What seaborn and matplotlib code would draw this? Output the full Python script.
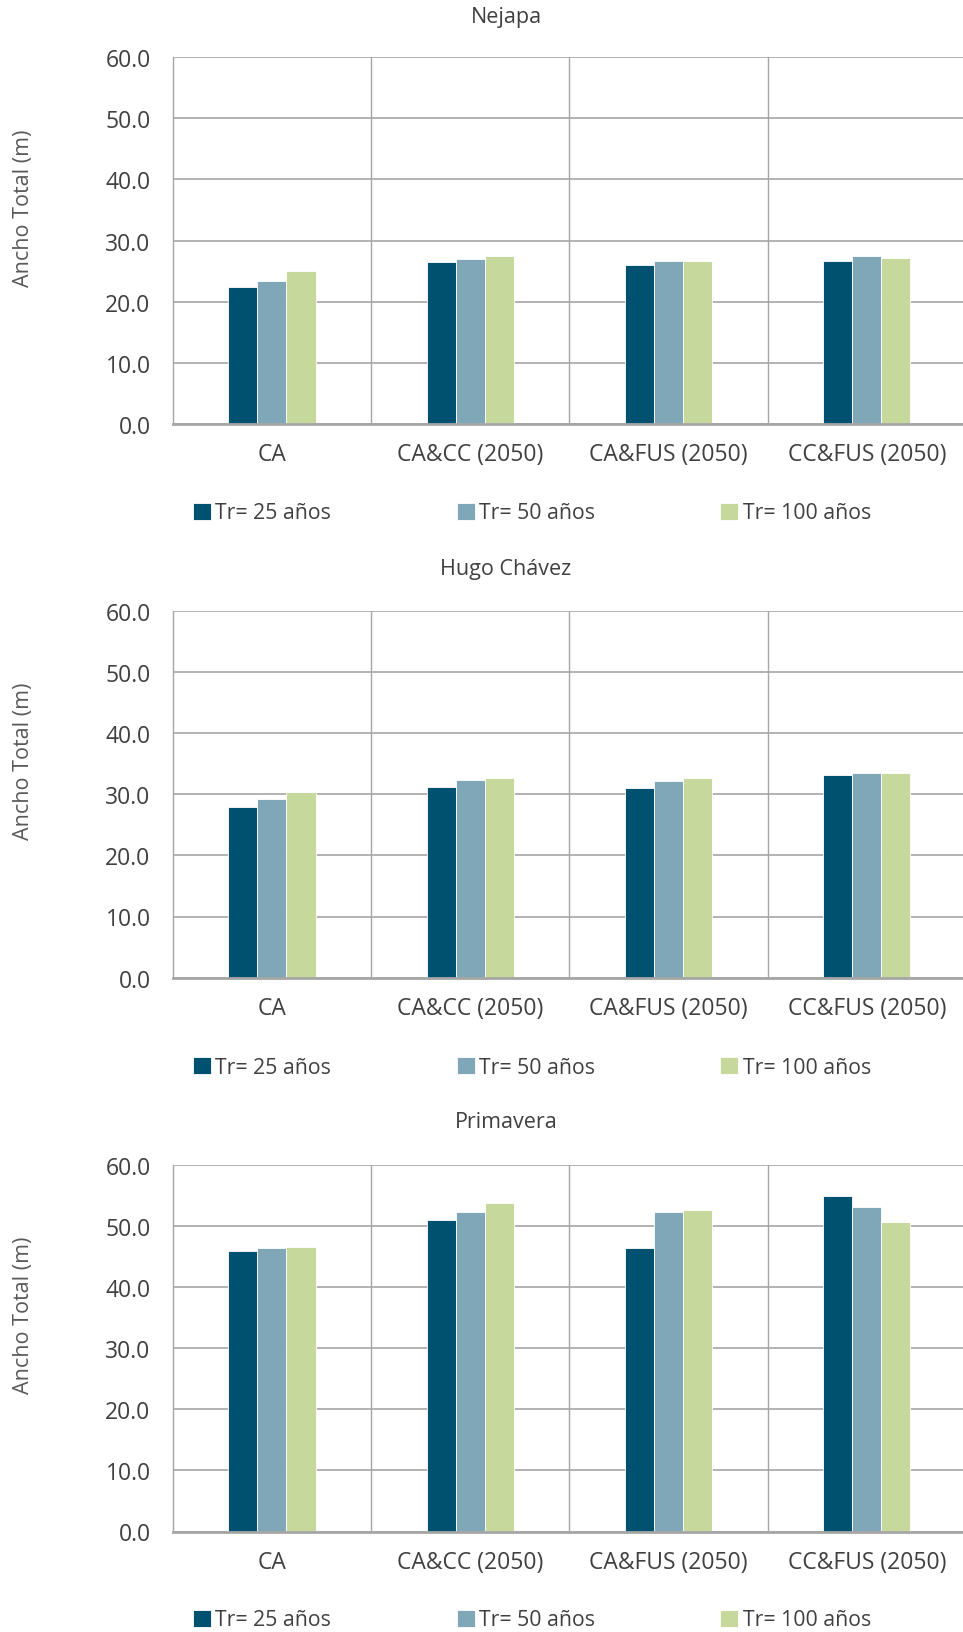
import matplotlib
matplotlib.use("Agg")
import matplotlib.pyplot as plt
import seaborn as sns
import pandas as pd

# ---------------- data ----------------
categories = ["CA", "CA&CC (2050)", "CA&FUS (2050)", "CC&FUS (2050)"]
series_names = ["Tr= 25 años", "Tr= 50 años", "Tr= 100 años"]
panel_titles = ["Nejapa", "Hugo Chávez", "Primavera"]

nejapa_tr25 = [22.4, 26.5, 26.0, 26.7]
nejapa_tr50 = [23.4, 27.0, 26.7, 27.4]
nejapa_tr100 = [25.0, 27.4, 26.7, 27.2]

hugo_tr25 = [27.9, 31.2, 31.0, 33.1]
hugo_tr50 = [29.2, 32.3, 32.1, 33.5]
hugo_tr100 = [30.4, 32.7, 32.7, 33.5]

primavera_tr25 = [46.0, 51.0, 46.4, 54.9]
primavera_tr50 = [46.4, 52.3, 52.3, 53.2]
primavera_tr100 = [46.6, 53.7, 52.7, 50.7]

y_ticks = [0, 10, 20, 30, 40, 50, 60]
y_label = "Ancho Total (m)"

panels = [
    (nejapa_tr25, nejapa_tr50, nejapa_tr100),
    (hugo_tr25, hugo_tr50, hugo_tr100),
    (primavera_tr25, primavera_tr50, primavera_tr100),
]

colors = ["#00506F", "#80A7B8", "#C6D89C"]
text_color = "#404040"
grid_color = "#A6A6A6"

sns.set_theme(style="white")
plt.rcParams["font.family"] = ["Open Sans", "DejaVu Sans"]

W, H = 963, 1633
fig = plt.figure(figsize=(W / 100, H / 100), dpi=100)

# pixel layout (top, bottom of plot area) for each panel
panel_px = [(58.3, 424.7), (612.0, 978.6), (1166.0, 1532.5)]
title_y = [17.7, 569.5, 1123.0]
ylabel_y = [208.0, 761.0, 1315.0]
legend_y = [514.0, 1068.0, 1621.0]
left_px = 172.8
right_px = 966.0

for i, (vals, (top, bot)) in enumerate(zip(panels, panel_px)):
    rows = []
    for s_name, s_vals in zip(series_names, vals):
        for c, v in zip(categories, s_vals):
            rows.append({"cat": c, "val": v, "tr": s_name})
    df = pd.DataFrame(rows)

    ax = fig.add_axes([left_px / W, (H - bot) / H, (right_px - left_px) / W, (bot - top) / H])
    sns.barplot(data=df, x="cat", y="val", hue="tr", order=categories,
                hue_order=series_names, palette=colors, width=0.44, gap=0,
                errorbar=None, ax=ax, edgecolor="white", linewidth=0.6,
                saturation=1)
    ax.set_xlim(-0.5, 3.5)
    ax.set_ylim(0, 60)
    ax.set_yticks(y_ticks)
    ax.set_yticklabels([f"{t:.1f}" for t in y_ticks])
    ax.set_xlabel("")
    ax.set_ylabel("")
    ax.yaxis.grid(True, color=grid_color, linewidth=1.2)
    ax.set_axisbelow(True)
    for xb in [0.5, 1.5, 2.5]:
        ax.axvline(xb, color=grid_color, linewidth=1.0, zorder=0)
    for side in ["top", "right"]:
        ax.spines[side].set_visible(False)
    ax.spines["left"].set_color(grid_color)
    ax.spines["left"].set_linewidth(1.0)
    ax.spines["bottom"].set_color(grid_color)
    ax.spines["bottom"].set_linewidth(2.0)
    ax.tick_params(axis="y", labelsize=16.5, colors=text_color, length=0, pad=16)
    ax.tick_params(axis="x", labelsize=16.5, colors=text_color, length=0, pad=13)

    fig.text(506 / W, 1 - title_y[i] / H, panel_titles[i], ha="center", va="center",
             fontsize=15.5, color=text_color)
    fig.text(23 / W, 1 - ylabel_y[i] / H, y_label, rotation=90, ha="center", va="center",
             fontsize=15.5, color="#595959")

    handles, labels = ax.get_legend_handles_labels()
    if ax.legend_:
        ax.legend_.remove()
    fig.legend(handles, labels, loc="center left",
               bbox_to_anchor=(193 / W, 1 - legend_y[i] / H), ncol=3, frameon=False,
               fontsize=15.3, handlelength=0.85, handleheight=0.85, handletextpad=0.2,
               columnspacing=5.9, borderaxespad=0, borderpad=0, labelcolor=text_color)

fig.savefig("out.png", dpi=100)
